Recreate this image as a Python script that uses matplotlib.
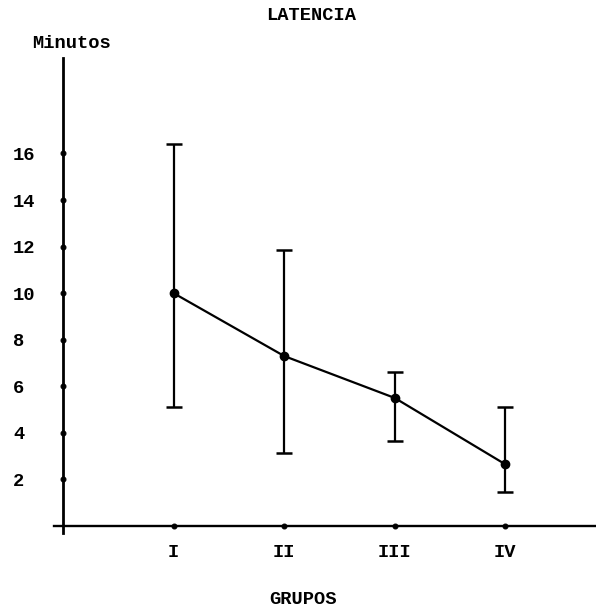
import matplotlib
matplotlib.use("Agg")
import matplotlib.pyplot as plt

# data
groups = ["I", "II", "III", "IV"]
group_pos = [1, 2, 3, 4]
means = [10.0, 7.3, 5.5, 2.65]
upper = [16.4, 11.85, 6.6, 5.1]
lower = [5.1, 3.15, 3.65, 1.45]
yticks = [2, 4, 6, 8, 10, 12, 14, 16]
ytick_labels = ["2", "4", "6", "8", "10", "12", "14", "16"]

FONT = "Liberation Mono"
FS = 13.5

fig = plt.figure(figsize=(5.96, 6.10), dpi=100)
ax = fig.add_axes([0.091, 0.1262, 0.909, 0.7787])
ax.set_xlim(-0.08, 4.82)
ax.set_ylim(-0.3, 20.1)

err_lo = [m - l for m, l in zip(means, lower)]
err_hi = [u - m for m, u in zip(means, upper)]
ax.errorbar(group_pos, means, yerr=[err_lo, err_hi], fmt="o-", color="black",
            lw=1.6, elinewidth=1.6, capsize=6, capthick=1.8, markersize=6,
            clip_on=False, zorder=3)

for s in ["top", "right"]:
    ax.spines[s].set_visible(False)
ax.spines["left"].set_position(("data", 0))
ax.spines["bottom"].set_position(("data", 0))
ax.spines["left"].set_linewidth(2.0)
ax.spines["bottom"].set_linewidth(1.7)

ax.set_yticks(yticks)
ax.set_yticklabels(ytick_labels, fontfamily=FONT, fontsize=FS, fontweight="bold",
                   ha="left")
ax.tick_params(axis="y", length=0, pad=36)
ax.set_xticks(group_pos)
ax.set_xticklabels(groups, fontfamily=FONT, fontsize=FS, fontweight="bold")
ax.tick_params(axis="x", length=0, pad=13)

for t in ax.yaxis.get_major_ticks():
    t.tick1line.set_marker("o")
    t.tick1line.set_markersize(3.5)
    t.tick1line.set_markerfacecolor("black")
    t.tick1line.set_markeredgecolor("black")
for t in ax.xaxis.get_major_ticks():
    t.tick1line.set_marker("o")
    t.tick1line.set_markersize(3.5)
    t.tick1line.set_markerfacecolor("black")
    t.tick1line.set_markeredgecolor("black")

fig.text(311 / 596, 1 - 15 / 610, "LATENCIA", ha="center", va="center",
         fontfamily=FONT, fontsize=FS, fontweight="bold")
fig.text(32 / 596, 1 - 43 / 610, "Minutos", ha="left", va="center",
         fontfamily=FONT, fontsize=FS, fontweight="bold")
fig.text(303 / 596, 1 - 600 / 610, "GRUPOS", ha="center", va="center",
         fontfamily=FONT, fontsize=FS, fontweight="bold")

fig.savefig("out.png", dpi=100, facecolor="white")
